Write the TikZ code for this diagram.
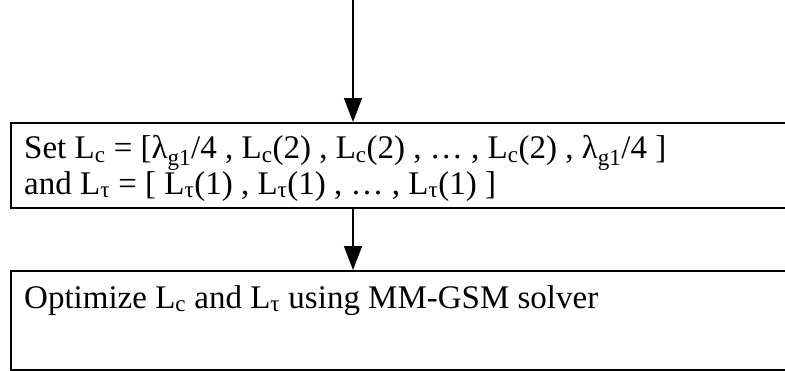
\documentclass[tikz,border=0pt]{standalone}
\usepackage{fontspec}
\setmainfont{Liberation Serif}
\usetikzlibrary{arrows.meta,calc}
\begin{document}
\begin{tikzpicture}[x=1pt,y=-1pt,
  flowbox/.style={draw, line width=1.7pt, rectangle, anchor=north west,
    inner sep=0pt, minimum width=800pt},
  boxtext/.style={anchor=north west, inner sep=0pt, align=left,
    font=\fontsize{33}{31}\selectfont},
  flow/.style={line width=1.7pt, -{Triangle[length=24pt,width=18pt]}}]
\useasboundingbox (0,0) rectangle (785,370);

% process boxes (they run on past the right edge)
\node[flowbox, minimum height=85pt] (setbox) at (10,122) {};
\node[flowbox, minimum height=99pt] (optbox) at (10,270) {};

% box texts
\node[boxtext] (settext) at ($(setbox.north west)+(14,13)$)
  {Set L\textsubscript{c} = [λ\textsubscript{g1}/4 , L\textsubscript{c}(2) , L\textsubscript{c}(2) , … , L\textsubscript{c}(2) , λ\textsubscript{g1}/4 ]\\
   and L\textsubscript{τ} = [ L\textsubscript{τ}(1) , L\textsubscript{τ}(1) , … , L\textsubscript{τ}(1) ]};
\node[boxtext] (opttext) at ($(optbox.north west)+(14,15)$)
  {Optimize L\textsubscript{c} and L\textsubscript{τ} using MM-GSM solver};

% flow arrows
\coordinate (entry) at (353,0);
\draw[flow] (entry) -- (entry |- setbox.north);
\draw[flow] (entry |- setbox.south) -- (entry |- optbox.north);
\end{tikzpicture}
\end{document}
